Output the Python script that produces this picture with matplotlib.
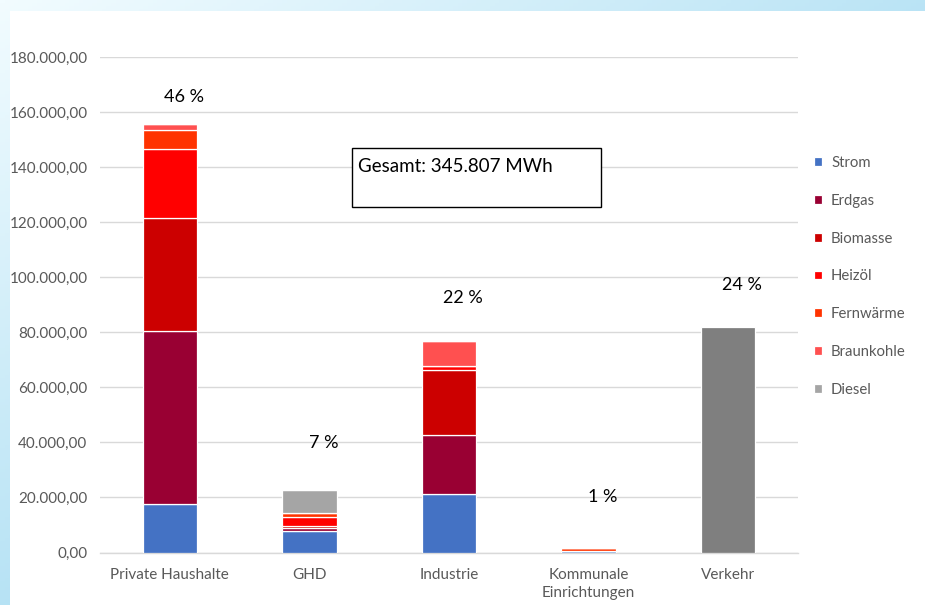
import numpy as np
import matplotlib
matplotlib.use("Agg")
import matplotlib.pyplot as plt
from matplotlib.patches import Rectangle
from matplotlib.ticker import FuncFormatter

plt.rcParams['font.family'] = ['Lato', 'DejaVu Sans']

# --- data -----------------------------------------------------------------
categories = ["Private Haushalte", "GHD", "Industrie", "Kommunale\nEinrichtungen", "Verkehr"]
series_names = ["Strom", "Erdgas", "Biomasse", "Heizöl", "Fernwärme", "Braunkohle", "Diesel"]
strom      = [17600, 7900, 21200,  400,     0]
erdgas     = [62900, 1000, 21400,    0,     0]
biomasse   = [41100,  700, 23600,    0,     0]
heizoel    = [24800, 3300,  1600,    0,     0]
fernwaerme = [ 6900, 1500,     0, 1300,     0]
braunkohle = [ 2200,    0,  9100,    0,     0]
diesel     = [    0, 8300,     0,    0,     0]
verkehr    = [    0,    0,     0,    0, 81900]
percent_labels = ["46 %", "7 %", "22 %", "1 %", "24 %"]
total_label = "Gesamt: 345.807 MWh"
y_ticks = [0, 20000, 40000, 60000, 80000, 100000, 120000, 140000, 160000, 180000]

series_values = [strom, erdgas, biomasse, heizoel, fernwaerme, braunkohle, diesel]
colors = ["#4472c4", "#990033", "#cc0000", "#ff0000", "#ff3300", "#ff5050", "#a5a5a5"]
verkehr_color = "#7f7f7f"

W, H = 925, 605
fig = plt.figure(figsize=(W / 100, H / 100), dpi=100)

# --- slide background: light-blue gradient with white panel ---------------
bg = fig.add_axes([0, 0, 1, 1])
gx = np.linspace(0, 1, 200)[None, :]
gy = np.linspace(0, 1, 200)[:, None]
t = np.clip(0.75 * gx + 0.8 * gy, 0, 1)
c0 = np.array([0xf2, 0xfc, 0xff]) / 255
c1 = np.array([0xa8, 0xdc, 0xf2]) / 255
img = c0[None, None, :] * (1 - t[..., None]) + c1[None, None, :] * t[..., None]
bg.imshow(img, extent=[0, 1, 0, 1], aspect='auto', origin='upper')
bg.add_patch(Rectangle((10 / W, 0), 1 - 10 / W, 1 - 11 / H, facecolor='white',
                       edgecolor='none'))
bg.set_xlim(0, 1)
bg.set_ylim(0, 1)
bg.axis('off')

# --- main axes -----------------------------------------------------------
left, right = 100 / W, 798 / W
bottom, top = (H - 552.5) / H, (H - 57) / H
ax = fig.add_axes([left, bottom, right - left, top - bottom])
ax.set_facecolor('none')

x = np.arange(len(categories)) + 0.5
width = 0.39
base = np.zeros(len(categories))
for name, vals, col in zip(series_names, series_values, colors):
    vals = np.array(vals, dtype=float)
    ax.bar(x, vals, width, bottom=base, color=col, edgecolor='white',
           linewidth=0.9, label=name, zorder=3)
    base += vals
vk = np.array(verkehr, dtype=float)
ax.bar(x, vk, width, bottom=base, color=verkehr_color, edgecolor='white',
       linewidth=0.9, label='_nolegend_', zorder=3)
base += vk

ax.set_xlim(0, len(categories))
ax.set_ylim(0, 180000)
ax.set_yticks(y_ticks)
ax.yaxis.set_major_formatter(FuncFormatter(
    lambda v, p: f"{v:,.2f}".replace(",", "X").replace(".", ",").replace("X", ".")))
ax.set_xticks(x)
ax.set_xticklabels(categories, linespacing=1.35)
ax.tick_params(axis='both', length=0, colors='#595959', labelsize=11)
ax.tick_params(axis='y', pad=9)
ax.tick_params(axis='x', pad=11)
ax.grid(axis='y', color='#d9d9d9', linewidth=1, zorder=0)
for s in ['top', 'right', 'left']:
    ax.spines[s].set_visible(False)
ax.spines['bottom'].set_color('#d9d9d9')
ax.spines['bottom'].set_linewidth(1)

# percentage labels above the bars
gaps = [10100, 17100, 15600, 18500, 15400]
for xi, tot, lab, gap in zip(x, base, percent_labels, gaps):
    ax.text(xi + 0.1, tot + gap, lab, ha='center', va='center', fontsize=13,
            color='black')

# total box
fig.patches.append(Rectangle((352 / W, 1 - 207 / H), 249 / W, 59 / H,
                             transform=fig.transFigure, facecolor='white',
                             edgecolor='black', linewidth=1))
fig.text(358 / W, 1 - 167 / H, total_label, ha='left', va='center',
         fontsize=13.5, color='black')

# legend
leg = fig.legend(loc='upper left', bbox_to_anchor=(808 / W, 1 - 150 / H),
                 frameon=False, fontsize=10.7, labelspacing=1.6,
                 handlelength=0.55, handleheight=0.55, handletextpad=0.6,
                 borderaxespad=0)
for txt in leg.get_texts():
    txt.set_color('#595959')

fig.savefig("out.png", dpi=100)
